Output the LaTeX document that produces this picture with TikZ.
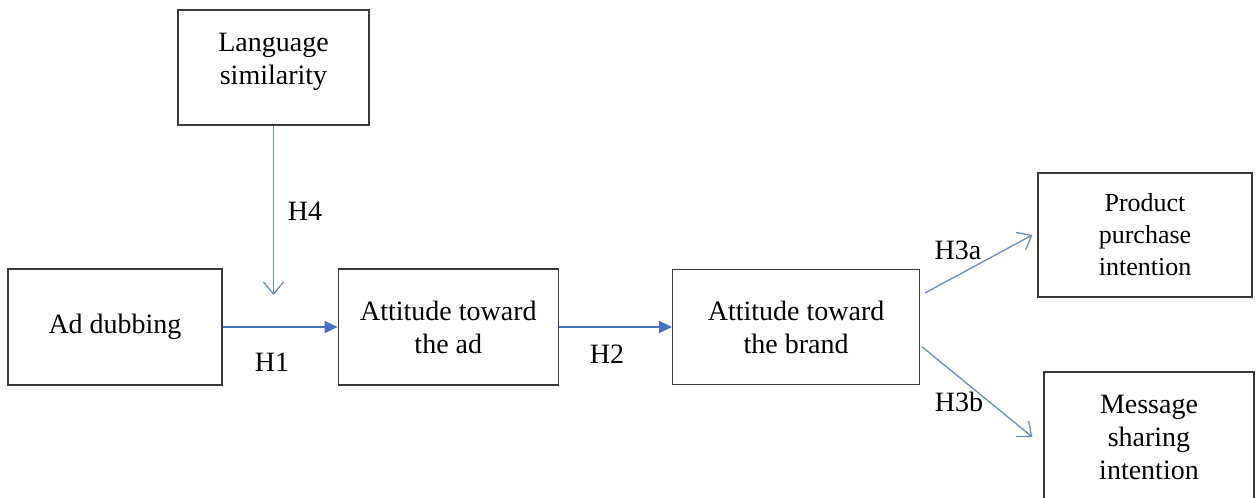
\documentclass[tikz,border=0pt]{standalone}
\usepackage{fontspec}
\setmainfont{Liberation Serif}
\usetikzlibrary{positioning, arrows.meta}
\definecolor{linkblue}{HTML}{4472C4}
\definecolor{paleblue}{HTML}{6A8CC8}
\definecolor{boxgray}{HTML}{3A3A3A}
\tikzstyle{construct} = [rectangle, draw=boxgray, line width=1.3pt, inner sep=0pt, align=center, font=\fontsize{28}{33}\selectfont]
\tikzstyle{mainpath} = [line width=1.3pt, draw=linkblue, -{Triangle[length=13pt,width=12pt]}, linkblue]
\tikzstyle{sidepath} = [line width=1.3pt, draw=paleblue, -{Straight Barb[length=12pt,width=20pt,line width=1.3pt]}]
\tikzstyle{hyp} = [inner sep=0pt, font=\fontsize{28}{33}\selectfont]

\begin{document}
\begin{tikzpicture}[x=1pt, y=-1pt]
		\useasboundingbox (0,0) rectangle (1256,498);
		
		% Nodes
		\node (ad) [construct, minimum width=214pt, minimum height=116pt] at (115,327) {Ad dubbing};
		\node (attad) [construct, minimum width=220pt, minimum height=116pt, right=115pt of ad] {Attitude toward\\the ad};
		\node (brand) [construct, minimum width=247pt, minimum height=115pt, right=113pt of attad] {Attitude toward\\the brand};
		\node (lang) [construct, minimum width=191pt, minimum height=115pt] at (273.5,67.5) {Language\\similarity\\[-16pt]};
		\node (prod) [construct, minimum width=214pt, minimum height=124pt, font=\fontsize{26}{32}\selectfont] at (1145,235) {Product\\purchase\\intention};
		\node (msg) [construct, minimum width=210pt, minimum height=130pt] at (1149,437) {Message\\sharing\\intention};
		\coordinate (h4tip) at (273.5,295);
		
		% Arrows
		\draw [sidepath] (lang.south) -- (h4tip);
		\draw [mainpath] (ad.east) -- (attad.west);
		\draw [mainpath] (attad.east) -- (brand.west);
		\draw [sidepath] ([xshift=5pt,yshift=-24pt]brand.north east) -- ([xshift=-5pt]prod.west);
		\draw [sidepath] ([xshift=2pt,yshift=-20pt]brand.east) -- ([xshift=-11pt]msg.west);
		
		% Labels
		\node (h4) [hyp] at (305,211) {H4};
		\node (h1) [hyp] at (272,362) {H1};
		\node (h2) [hyp] at (607,354) {H2};
		\node (h3a) [hyp] at (958,250) {H3a};
		\node (h3b) [hyp] at (959,402) {H3b};
		
	\end{tikzpicture}
\end{document}
